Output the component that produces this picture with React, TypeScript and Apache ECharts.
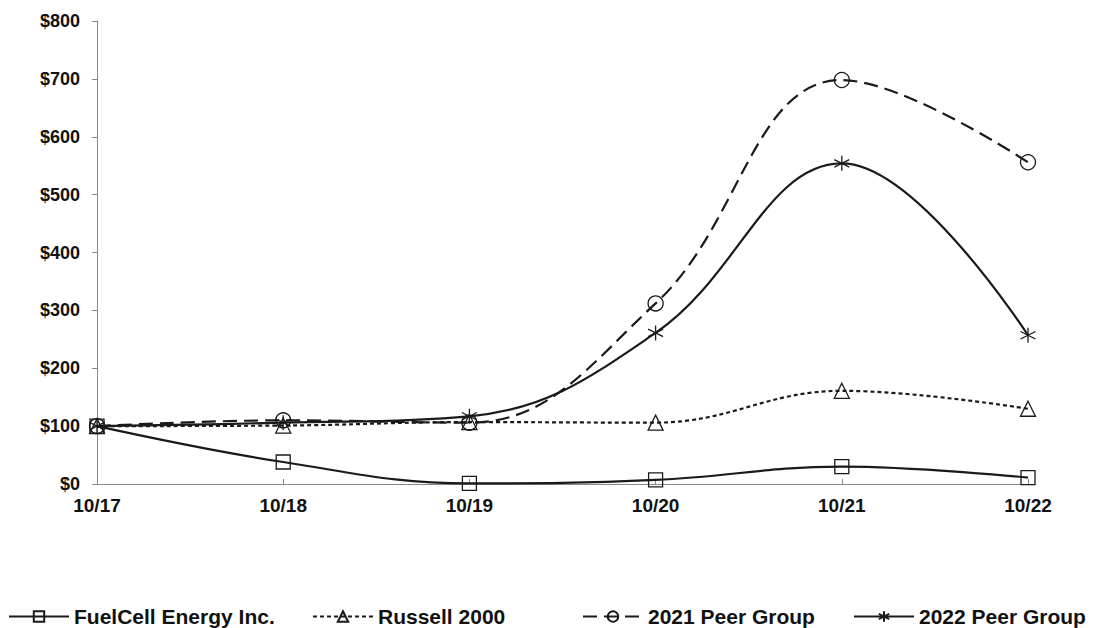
import React, { useEffect, useRef } from "react";
import * as echarts from "echarts";

const categories = ["10/17", "10/18", "10/19", "10/20", "10/21", "10/22"];
const fuelCell = [100, 38, 1, 7, 30, 11];
const russell2000 = [100, 101, 107, 106, 161, 130];
const peer2021 = [100, 110, 106, 312, 698, 556];
const peer2022 = [100, 106, 117, 261, 554, 257];
const seriesNames = ["FuelCell Energy Inc.", "Russell 2000", "2021 Peer Group", "2022 Peer Group"];

const ASTERISK = "path://M0,-10L0,10M-8.66,-5L8.66,5M-8.66,5L8.66,-5";
const INK = "#1a1a1a";
const FONT = "'Liberation Sans', Arial, sans-serif";

export default function App() {
  const ref = useRef<HTMLDivElement>(null);
  useEffect(() => {
    document.body.style.margin = "0";
    const chart = echarts.init(ref.current!, null, { renderer: "svg" });
    const mk = (name: string, data: number[], symbol: string, dash: any, size: number) => ({
      name,
      type: "line",
      data,
      smooth: 0.4,
      symbol,
      symbolSize: size,
      showAllSymbol: true,
      lineStyle: { color: INK, width: 2.2, type: dash },
      itemStyle: { color: "rgba(255,255,255,0)", borderColor: INK, borderWidth: 1.3 },
      emphasis: { disabled: true },
    });
    const legendLefts = [8, 312, 582, 853];
    chart.setOption({
      animation: false,
      grid: { left: 97, right: 91, top: 21, bottom: 144 },
      legend: seriesNames.map((n, i) => ({
        data: [n],
        left: legendLefts[i],
        top: 606,
        itemWidth: 60,
        itemHeight: 13,
        itemGap: 6,
        padding: 0,
        textStyle: { fontFamily: FONT, fontWeight: "bold", fontSize: 21, color: "#111" },
        selectedMode: false,
      })),
      xAxis: {
        type: "category",
        data: categories,
        boundaryGap: false,
        axisLine: { lineStyle: { color: "#888", width: 1 } },
        axisTick: { inside: true, length: 5, lineStyle: { color: "#888" } },
        axisLabel: { fontFamily: FONT, fontWeight: "bold", fontSize: 19, color: "#111", margin: 12 },
        splitLine: { show: false },
      },
      yAxis: {
        type: "value",
        min: 0,
        max: 800,
        interval: 100,
        axisLine: { show: true, lineStyle: { color: "#888", width: 1 } },
        axisTick: { show: true, length: 5, lineStyle: { color: "#888" } },
        splitLine: { show: false },
        axisLabel: { fontFamily: FONT, fontWeight: "bold", fontSize: 18, color: "#111", margin: 17, formatter: "${value}" },
      },
      series: [
        mk(seriesNames[0], fuelCell, "rect", "solid", 14),
        mk(seriesNames[1], russell2000, "triangle", [4, 3], 15),
        mk(seriesNames[2], peer2021, "circle", [14, 7], 15),
        mk(seriesNames[3], peer2022, ASTERISK, "solid", 15),
      ],
    });
    return () => chart.dispose();
  }, []);
  return <div ref={ref} style={{ width: 1119, height: 628 }} />;
}
